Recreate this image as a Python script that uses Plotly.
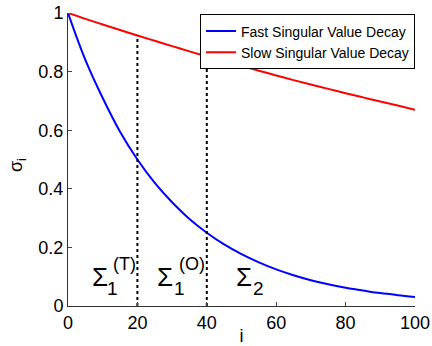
import plotly.graph_objects as go

# index values
idx = [0, 5, 10, 15, 20, 25, 30, 35, 40, 45, 50, 55, 60, 65, 70, 75, 80, 85, 90, 95, 100]
fast_decay = [1.0, 0.84, 0.71, 0.595, 0.50, 0.42, 0.354, 0.297, 0.25, 0.21, 0.177, 0.149,
              0.125, 0.105, 0.088, 0.074, 0.0625, 0.053, 0.044, 0.037, 0.031]
slow_decay = [1.0, 0.980, 0.961, 0.942, 0.923, 0.905, 0.887, 0.869, 0.852, 0.835, 0.819,
              0.803, 0.787, 0.771, 0.756, 0.741, 0.726, 0.712, 0.698, 0.684, 0.670]
split_idx = [20, 40]
split_top = [0.923, 0.852]

FONT = "Liberation Sans, Arial, sans-serif"

fig = go.Figure()
fig.add_trace(go.Scatter(x=idx, y=fast_decay, mode="lines", name="Fast Singular Value Decay",
                         line=dict(color="#0000ff", width=2, shape="spline"), cliponaxis=False))
fig.add_trace(go.Scatter(x=idx, y=slow_decay, mode="lines", name="Slow Singular Value Decay",
                         line=dict(color="#ff0000", width=2, shape="spline"), cliponaxis=False))
for xs, top in zip(split_idx, split_top):
    fig.add_trace(go.Scatter(x=[xs, xs], y=[0, top], mode="lines", showlegend=False,
                             line=dict(color="black", width=2, dash="dot"), hoverinfo="skip"))

# region labels: Sigma with stacked sub/superscripts (x of Sigma, sub, sup in data units)
labels = [
    (9.2, 12.7, "1", 16.4, "(T)"),
    (28.0, 32.0, "1", 35.8, "(O)"),
    (50.7, 54.8, "2", None, None),
]
for xs, xsub, sub, xsup, sup in labels:
    fig.add_annotation(x=xs, y=0.099, xref="x", yref="y", text="Σ", showarrow=False,
                       font=dict(size=26, color="black", family=FONT), xanchor="center", yanchor="middle")
    fig.add_annotation(x=xsub, y=0.06, xref="x", yref="y", text=sub, showarrow=False,
                       font=dict(size=19, color="black", family=FONT), xanchor="center", yanchor="middle")
    if sup:
        fig.add_annotation(x=xsup, y=0.142, xref="x", yref="y", text=sup, showarrow=False,
                           font=dict(size=18, color="black", family=FONT),
                           xanchor="center", yanchor="middle")

fig.add_annotation(x=-50 / 347, y=(306 - 165) / 293, xref="paper", yref="paper",
                   text="σ<sub>i</sub>", showarrow=False, textangle=-90,
                   font=dict(size=18, color="black", family=FONT), xanchor="center", yanchor="middle")

fig.update_layout(
    width=432, height=346,
    margin=dict(l=68, r=17, t=13, b=40, autoexpand=False),
    paper_bgcolor="white", plot_bgcolor="white",
    font=dict(family=FONT, color="black", size=18),
    legend=dict(x=1, y=0.995, xanchor="right", yanchor="top", bgcolor="white",
                bordercolor="black", borderwidth=1, font=dict(size=14, family=FONT),
                itemwidth=30, tracegroupgap=0),
    showlegend=True,
)
fig.update_xaxes(range=[0, 100], tickvals=[0, 20, 40, 60, 80, 100], ticks="inside", ticklen=4,
                 showline=True, linecolor="#333", linewidth=1, showgrid=False, zeroline=False,
                 automargin=False, tickfont=dict(size=18),
                 title=dict(text="i", font=dict(size=18), standoff=2))
fig.update_yaxes(range=[0, 1], tickvals=[0, 0.2, 0.4, 0.6, 0.8, 1],
                 ticktext=["0", "0.2", "0.4", "0.6", "0.8", "1"],
                 ticks="inside", ticklen=4, showline=True, linecolor="#333", linewidth=1,
                 showgrid=False, zeroline=False, automargin=False, tickfont=dict(size=18))

fig.write_html("out.html", config={"displayModeBar": False},
               post_script="document.body.style.margin='0';")
